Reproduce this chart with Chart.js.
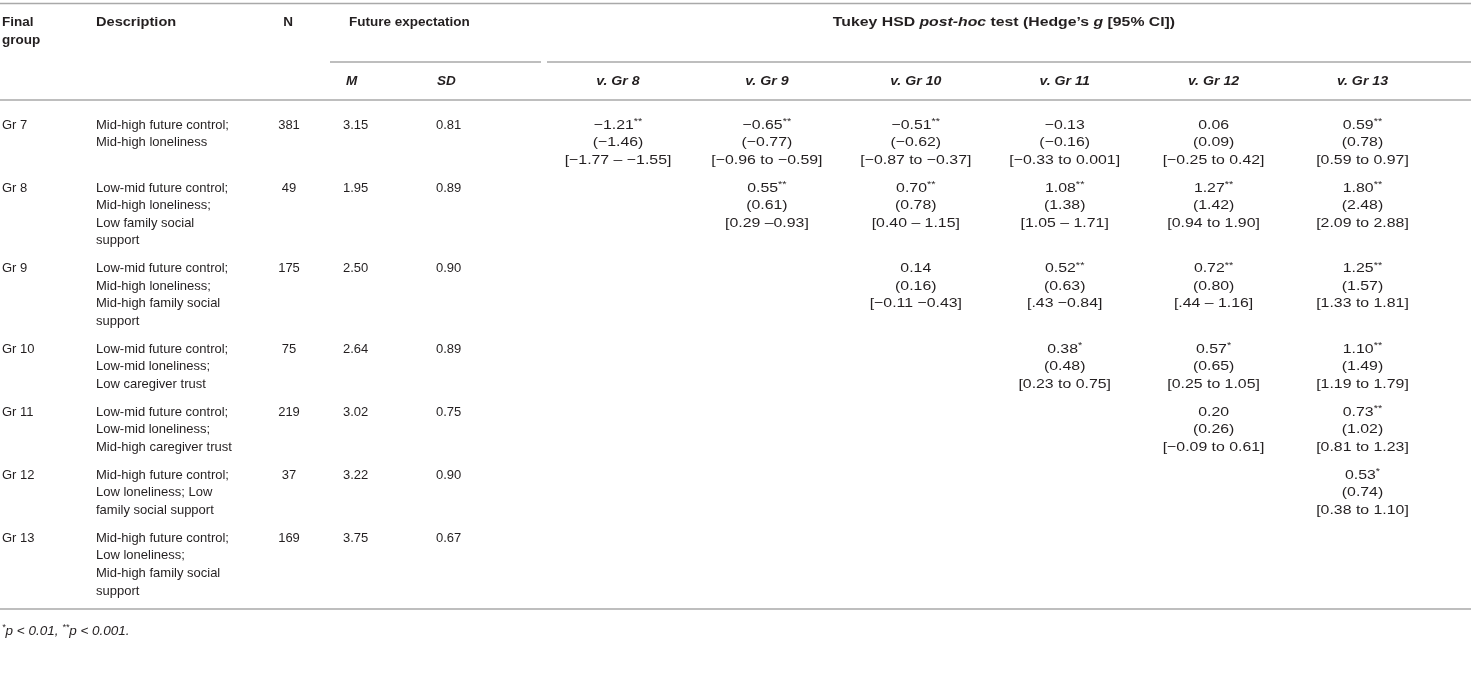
<!DOCTYPE html>
<html>
<head>
<meta charset="utf-8">
<script src="https://cdn.jsdelivr.net/npm/chart.js@4.4.1/dist/chart.umd.min.js"></script>
<style>
html,body{margin:0;padding:0;background:#fff;}
#wrap{width:1471px;height:693px;position:relative;}
</style>
</head>
<body>
<div id="wrap"><canvas id="c"></canvas></div>
<script>
// ---------- DATA ----------
const groups = ['Gr 7','Gr 8','Gr 9','Gr 10','Gr 11','Gr 12','Gr 13'];
const descriptions = [
  ['Mid-high future control;','Mid-high loneliness'],
  ['Low-mid future control;','Mid-high loneliness;','Low family social','support'],
  ['Low-mid future control;','Mid-high loneliness;','Mid-high family social','support'],
  ['Low-mid future control;','Low-mid loneliness;','Low caregiver trust'],
  ['Low-mid future control;','Low-mid loneliness;','Mid-high caregiver trust'],
  ['Mid-high future control;','Low loneliness; Low','family social support'],
  ['Mid-high future control;','Low loneliness;','Mid-high family social','support']
];
const nValues = [381, 49, 175, 75, 219, 37, 169];
const meanValues = [3.15, 1.95, 2.50, 2.64, 3.02, 3.22, 3.75];
const sdValues = [0.81, 0.89, 0.90, 0.89, 0.75, 0.90, 0.67];
const comparisonLabels = ['v. Gr 8','v. Gr 9','v. Gr 10','v. Gr 11','v. Gr 12','v. Gr 13'];
const diffValues = [
  [-1.21, -0.65, -0.51, -0.13, 0.06, 0.59],
  [null, 0.55, 0.70, 1.08, 1.27, 1.80],
  [null, null, 0.14, 0.52, 0.72, 1.25],
  [null, null, null, 0.38, 0.57, 1.10],
  [null, null, null, null, 0.20, 0.73],
  [null, null, null, null, null, 0.53],
  [null, null, null, null, null, null]
];
const significance = [
  ['**','**','**','','','**'],
  ['','**','**','**','**','**'],
  ['','','','**','**','**'],
  ['','','','*','*','**'],
  ['','','','','','**'],
  ['','','','','','*'],
  ['','','','','','']
];
const hedgesG = [
  [-1.46, -0.77, -0.62, -0.16, 0.09, 0.78],
  [null, 0.61, 0.78, 1.38, 1.42, 2.48],
  [null, null, 0.16, 0.63, 0.80, 1.57],
  [null, null, null, 0.48, 0.65, 1.49],
  [null, null, null, null, 0.26, 1.02],
  [null, null, null, null, null, 0.74],
  [null, null, null, null, null, null]
];
const ciLabels = [
  ['[\u22121.77 \u2013 \u22121.55]','[\u22120.96 to \u22120.59]','[\u22120.87 to \u22120.37]','[\u22120.33 to 0.001]','[\u22120.25 to 0.42]','[0.59 to 0.97]'],
  [null,'[0.29 \u20130.93]','[0.40 \u2013 1.15]','[1.05 \u2013 1.71]','[0.94 to 1.90]','[2.09 to 2.88]'],
  [null,null,'[\u22120.11 \u22120.43]','[.43 \u22120.84]','[.44 \u2013 1.16]','[1.33 to 1.81]'],
  [null,null,null,'[0.23 to 0.75]','[0.25 to 1.05]','[1.19 to 1.79]'],
  [null,null,null,null,'[\u22120.09 to 0.61]','[0.81 to 1.23]'],
  [null,null,null,null,null,'[0.38 to 1.10]'],
  [null,null,null,null,null,null]
];

// ---------- LAYOUT ----------
const W = 1471, H = 693;
const FONT = '"Liberation Sans", Arial, Helvetica, sans-serif';
const TXT = '#231f20';
const RULE = '#a9a9a9';
const LH = 17.6;
const ROW_GAP = 10.2;
const FIRST_ROW = 125;
const COL = {group: 2, desc: 96, n: 289, m: 343, sd: 436, tukey0: 618, tukeyStep: 148.9};
const TUKEY_STRETCH = 1.22;

function fmt(v){ return (v < 0 ? '\u2212' : '') + Math.abs(v).toFixed(2); }
function lineCount(i){
  const hasT = diffValues[i].some(v => v !== null);
  return Math.max(descriptions[i].length, hasT ? 3 : 1);
}
const rowY = [];
(function(){ let y = FIRST_ROW; for (let i = 0; i < groups.length; i++){ rowY.push(y); y += lineCount(i) * LH + ROW_GAP; } })();
function tukeyX(j){ return COL.tukey0 + COL.tukeyStep * j; }

const cellPoints = [];
diffValues.forEach((row, i) => row.forEach((v, j) => {
  if (v !== null) cellPoints.push({x: tukeyX(j), y: rowY[i], r: i, c: j});
}));

function runsWidth(ctx, runs){
  let w = 0;
  runs.forEach(r => { ctx.font = r.font; w += ctx.measureText(r.t).width; });
  return w;
}
function drawRuns(ctx, runs, x, y, align, sx){
  sx = sx || 1;
  const w = runsWidth(ctx, runs) * sx;
  const start = align === 'center' ? x - w / 2 : (align === 'right' ? x - w : x);
  ctx.save();
  ctx.translate(start, y);
  ctx.scale(sx, 1);
  let cx = 0;
  runs.forEach(r => {
    ctx.font = r.font;
    ctx.textAlign = 'left';
    ctx.fillText(r.t, cx, r.dy || 0);
    cx += ctx.measureText(r.t).width;
  });
  ctx.restore();
}
const F_BODY = '13px ' + FONT;
const F_BOLD = 'bold 13.5px ' + FONT;
const F_BI = 'italic bold 13.5px ' + FONT;
const F_SUP = '9px ' + FONT;

const tablePlugin = {
  id: 'tablePlugin',
  afterDatasetsDraw(chart){
    const ctx = chart.ctx;
    const xs = chart.scales.x, ys = chart.scales.y;
    const X = v => xs.getPixelForValue(v), Y = v => ys.getPixelForValue(v);
    ctx.save();
    ctx.fillStyle = TXT;
    ctx.textBaseline = 'middle';
    ctx.strokeStyle = RULE;
    ctx.lineWidth = 1.4;
    const hline = (x1, x2, y) => { ctx.beginPath(); ctx.moveTo(X(x1), Y(y)); ctx.lineTo(X(x2), Y(y)); ctx.stroke(); };
    hline(0, W, 3.5);
    hline(330, 541, 62);
    hline(547, W, 62);
    hline(0, W, 100);
    const last = groups.length - 1;
    const bottomY = rowY[last] + (lineCount(last) - 1) * LH + 18;
    hline(0, W, bottomY);

    // headers
    drawRuns(ctx, [{t:'Final', font:F_BOLD}], X(COL.group), Y(22), 'left');
    drawRuns(ctx, [{t:'group', font:F_BOLD}], X(COL.group), Y(40), 'left');
    drawRuns(ctx, [{t:'Description', font:F_BOLD}], X(COL.desc), Y(22), 'left', 1.08);
    drawRuns(ctx, [{t:'N', font:F_BOLD}], X(COL.n - 1), Y(22), 'center');
    drawRuns(ctx, [{t:'Future expectation', font:F_BOLD}], X(349), Y(22), 'left');
    drawRuns(ctx, [
      {t:'Tukey HSD ', font:F_BOLD},
      {t:'post-hoc', font:F_BI},
      {t:' test (Hedge\u2019s ', font:F_BOLD},
      {t:'g', font:F_BI},
      {t:' [95% CI])', font:F_BOLD}
    ], X(1004), Y(22), 'center', 1.17);
    drawRuns(ctx, [{t:'M', font:F_BI}], X(COL.m + 3), Y(81), 'left');
    drawRuns(ctx, [{t:'SD', font:F_BI}], X(COL.sd + 1), Y(81), 'left');
    comparisonLabels.forEach((lab, j) => drawRuns(ctx, [{t:lab, font:F_BI}], X(tukeyX(j)), Y(81), 'center', 1.05));

    // body left columns
    groups.forEach((g, i) => {
      const y = rowY[i];
      drawRuns(ctx, [{t:g, font:F_BODY}], X(COL.group), Y(y), 'left');
      descriptions[i].forEach((line, k) => drawRuns(ctx, [{t:line, font:F_BODY}], X(COL.desc), Y(y + k * LH), 'left'));
      drawRuns(ctx, [{t:String(nValues[i]), font:F_BODY}], X(COL.n), Y(y), 'center');
      drawRuns(ctx, [{t:meanValues[i].toFixed(2), font:F_BODY}], X(COL.m), Y(y), 'left');
      drawRuns(ctx, [{t:sdValues[i].toFixed(2), font:F_BODY}], X(COL.sd), Y(y), 'left');
    });

    // Tukey cells anchored on dataset elements
    const meta = chart.getDatasetMeta(0);
    meta.data.forEach((el, k) => {
      const p = cellPoints[k];
      const i = p.r, j = p.c;
      const cx = el.x, cy = el.y;
      const sig = significance[i][j];
      const runs = [{t:fmt(diffValues[i][j]), font:F_BODY}];
      if (sig) runs.push({t:sig, font:F_SUP, dy:-3.5});
      drawRuns(ctx, runs, cx, cy, 'center', TUKEY_STRETCH);
      drawRuns(ctx, [{t:'(' + fmt(hedgesG[i][j]) + ')', font:F_BODY}], cx, cy + LH, 'center', TUKEY_STRETCH);
      drawRuns(ctx, [{t:ciLabels[i][j], font:F_BODY}], cx, cy + 2 * LH, 'center', TUKEY_STRETCH);
    });

    // footnote
    const F_IT = 'italic 13.5px ' + FONT;
    const F_ITSUP = 'italic 9px ' + FONT;
    drawRuns(ctx, [
      {t:'*', font:F_ITSUP, dy:-3.5},
      {t:'p < 0.01, ', font:F_IT},
      {t:'**', font:F_ITSUP, dy:-3.5},
      {t:'p < 0.001.', font:F_IT}
    ], X(2), Y(bottomY + 22), 'left');
    ctx.restore();
  }
};

new Chart(document.getElementById('c'), {
  type: 'scatter',
  data: {
    datasets: [{
      label: 'Tukey cells',
      data: cellPoints.map(p => ({x: p.x, y: p.y})),
      pointRadius: 0,
      pointHoverRadius: 0,
      showLine: false
    }]
  },
  options: {
    responsive: true,
    maintainAspectRatio: false,
    animation: false,
    events: [],
    layout: {padding: 0},
    plugins: {legend: {display: false}, tooltip: {enabled: false}, title: {display: false}},
    scales: {
      x: {type: 'linear', min: 0, max: W, display: false},
      y: {type: 'linear', min: 0, max: H, reverse: true, display: false}
    }
  },
  plugins: [tablePlugin]
});
</script>
</body>
</html>
